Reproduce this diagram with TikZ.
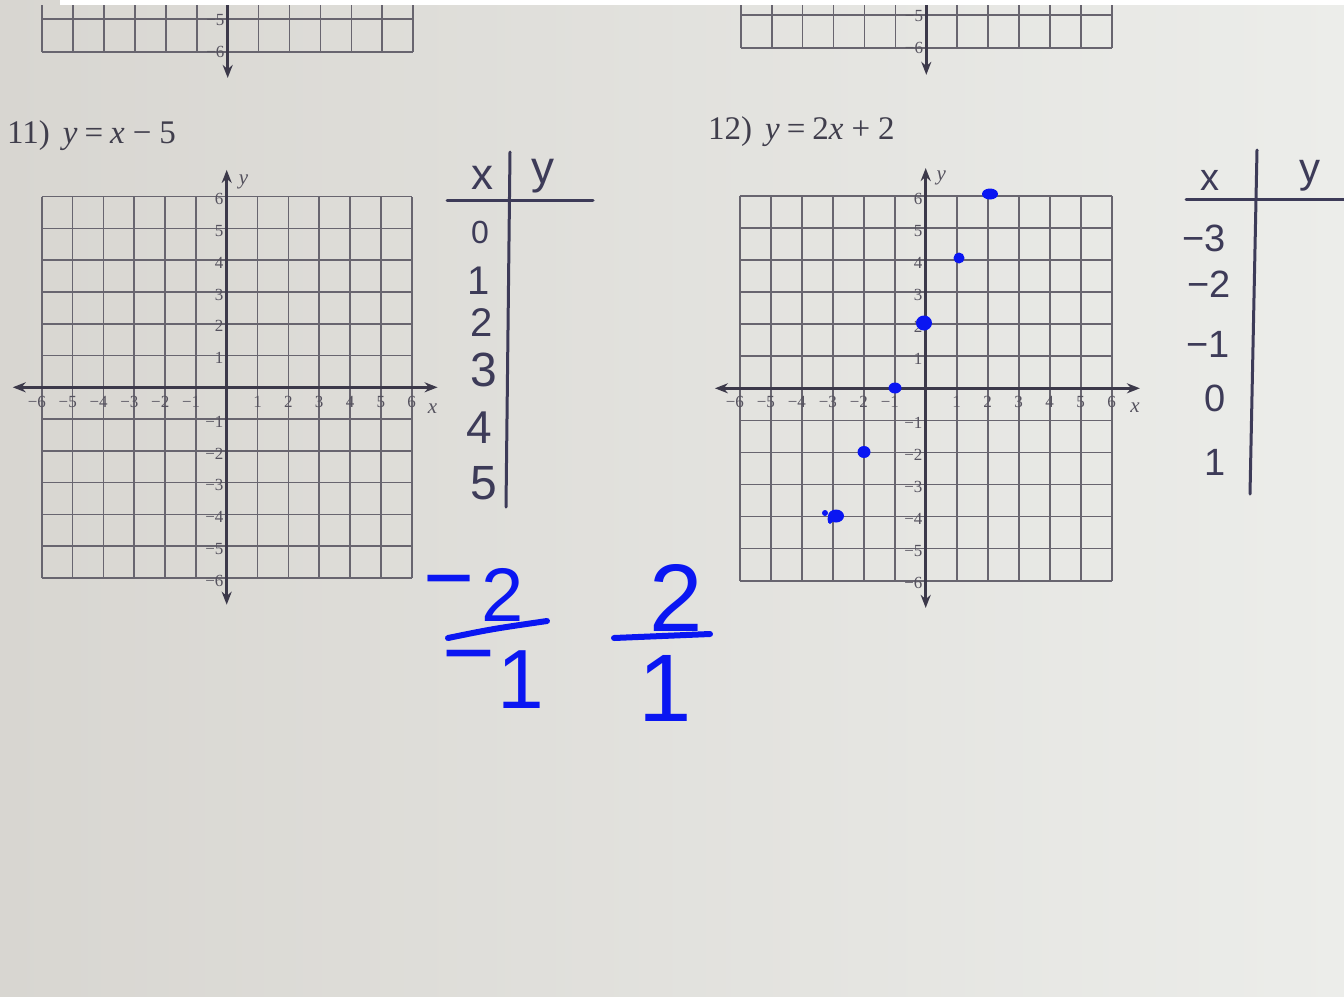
\documentclass[tikz,border=0pt]{standalone}
\usepackage{fontspec}
\setmainfont{Liberation Serif}
\newfontfamily\hand{Liberation Sans}
\usetikzlibrary{arrows.meta}
\definecolor{paperL}{HTML}{D8D6D1}
\definecolor{paperM}{HTML}{E2E1DD}
\definecolor{paperR}{HTML}{ECEDEA}
\definecolor{gridc}{HTML}{68656F}
\definecolor{axisc}{HTML}{3C394A}
\definecolor{labc}{HTML}{55525E}
\definecolor{titc}{HTML}{403E4C}
\definecolor{penc}{HTML}{3D3B58}
\definecolor{inkblue}{HTML}{0A16F2}
\tikzset{
  gridline/.style={draw=gridc, line width=1.7pt},
  axisline/.style={draw=axisc, line width=2.6pt},
  tip/.style={-{Stealth[length=13pt,width=10pt]}},
  tiptwo/.style={{Stealth[length=13pt,width=10pt]}-{Stealth[length=13pt,width=10pt]}},
  ticklab/.style={font=\fontsize{17}{17}\selectfont, text=labc, inner sep=0pt},
  axlab/.style={font=\fontsize{21}{21}\selectfont\itshape, text=labc, inner sep=0pt},
  titlelab/.style={font=\fontsize{33}{36}\selectfont, text=titc, inner sep=0pt, anchor=base west},
  handA/.style={font=\hand\fontsize{40}{40}\selectfont, text=penc, inner sep=0pt},
  handB/.style={font=\hand\fontsize{38}{38}\selectfont, text=penc, inner sep=0pt},
  penline/.style={draw=penc, line width=3pt, line cap=round},
  blueink/.style={text=inkblue, inner sep=0pt},
  bluebar/.style={draw=inkblue, line width=6pt, line cap=round},
  dot/.style={fill=inkblue},
}
\begin{document}
\begin{tikzpicture}[x=1pt,y=-1pt]
\useasboundingbox (0,0) rectangle (1344,996);
\shade[left color=paperL, middle color=paperM, right color=paperR] (0,0) rectangle (1344,996);
\fill[white] (60,0) rectangle (1344,5);

% ---- top-left partial grid
\begin{scope}[shift={(227.7,51.7)}, x=30.92pt, y=32.4pt]
  \foreach \k in {-6,...,6}{ \draw[gridline] (\k,0) -- (\k,1.44); }
  \draw[gridline] (-6,0) -- (6,0);
  \draw[gridline] (-6,1) -- (6,1);
  \draw[axisline, tip] (0,1.44) -- (0,-0.81);
  \node[ticklab, anchor=east] (a5) at (-0.1,0.98) {−5};
  \node[ticklab, anchor=east] (a6) at (-0.1,-0.02) {−6};
\end{scope}

% ---- top-right partial grid
\begin{scope}[shift={(926.3,47.7)}, x=30.92pt, y=32.7pt]
  \foreach \k in {-6,...,6}{ \draw[gridline] (\k,0) -- (\k,1.3); }
  \draw[gridline] (-6,0) -- (6,0);
  \draw[gridline] (-6,1) -- (6,1);
  \draw[axisline, tip] (0,1.3) -- (0,-0.83);
  \node[ticklab, anchor=east] (b5) at (-0.1,0.98) {−5};
  \node[ticklab, anchor=east] (b6) at (-0.1,-0.02) {−6};
\end{scope}

% ---- problem 11 grid
\begin{scope}[shift={(226.7,387.3)}, x=30.83pt, y=31.78pt]
  \foreach \k in {-6,...,6}{
    \draw[gridline] (\k,-6) -- (\k,6);
    \draw[gridline] (-6,\k) -- (6,\k);
  }
  \draw[axisline, tiptwo] (-6.94,0) -- (6.84,0);
  \draw[axisline, tiptwo] (0,-6.84) -- (0,6.84);
  \foreach \i in {1,...,6}{
    \node[ticklab] (g1xp\i) at (\i,-0.45) {\i};
    \node[ticklab] (g1xn\i) at (-\i,-0.45) {\llap{−}\i};
    \node[ticklab, anchor=east] (g1yp\i) at (-0.1,\i-0.08) {\i};
    \node[ticklab, anchor=east] (g1yn\i) at (-0.1,-\i-0.08) {−\i};
  }
  \node[axlab] (g1y) at (0.55,6.46) {y};
  \node[axlab] (g1x) at (6.68,-0.68) {x};
\end{scope}

% ---- problem 12 grid
\begin{scope}[shift={(925.7,388.3)}, x=31.0pt, y=32.06pt]
  \foreach \k in {-6,...,6}{
    \draw[gridline] (\k,-6) -- (\k,6);
    \draw[gridline] (-6,\k) -- (6,\k);
  }
  \draw[axisline, tiptwo] (-6.8,0) -- (6.91,0);
  \draw[axisline, tiptwo] (0,-6.85) -- (0,6.87);
  \foreach \i in {1,...,6}{
    \node[ticklab] (g2xp\i) at (\i,-0.42) {\i};
    \node[ticklab] (g2xn\i) at (-\i,-0.42) {\llap{−}\i};
    \node[ticklab, anchor=east] (g2yp\i) at (-0.1,\i-0.08) {\i};
    \node[ticklab, anchor=east] (g2yn\i) at (-0.1,-\i-0.08) {−\i};
  }
  \node[axlab] (g2y) at (0.5,6.56) {y};
  \node[axlab] (g2x) at (6.75,-0.61) {x};
\end{scope}

% ---- titles
\node[titlelab] (t11) at (7,143) {11)\hspace{13pt}\textit{y}\hspace{7pt}=\hspace{7pt}\textit{x}\hspace{8pt}−\hspace{8pt}5};
\node[titlelab] (t12) at (708,139) {12)\hspace{13pt}\textit{y}\hspace{7pt}=\hspace{7pt}2\textit{x}\hspace{8pt}+\hspace{8pt}2};

% ---- blue plotted points
\fill[dot] (990,194) ellipse [x radius=8pt, y radius=5.5pt];
\fill[dot] (959,258) circle [radius=5.5pt];
\fill[dot] (924,323) ellipse [x radius=8pt, y radius=7.5pt];
\fill[dot] (895,388) ellipse [x radius=6.5pt, y radius=5.5pt];
\fill[dot] (864,452) ellipse [x radius=6.5pt, y radius=6pt];
\fill[dot] (836,516) ellipse [x radius=8pt, y radius=6.5pt];
\fill[dot] (825,513) circle [radius=3pt];
\fill[dot] (830,519) ellipse [x radius=2.5pt, y radius=5pt];

% ---- table 1 (handwritten)
\draw[penline] (510,152) -- (506,507);
\draw[penline] (447,200) -- (593,200);
\node[handA, font=\hand\fontsize{44}{44}\selectfont] (h1x) at (482,178) {x};
\node[handA, font=\hand\fontsize{46}{46}\selectfont] (h1y) at (543,176) {y};
\node[handA, font=\hand\fontsize{32}{32}\selectfont] (h10) at (480,232) {0};
\node[handA] (h11) at (479,281) {1};
\node[handA] (h12) at (482,323) {2};
\node[handA, font=\hand\fontsize{48}{48}\selectfont] (h13) at (484,370) {3};
\node[handA, font=\hand\fontsize{46}{46}\selectfont] (h14) at (479,428) {4};
\node[handA, font=\hand\fontsize{48}{48}\selectfont] (h15) at (484,483) {5};

% ---- table 2 (handwritten)
\draw[penline] (1257,150) -- (1250,494);
\draw[penline] (1186,199) -- (1344,199);
\node[handB] (h2x) at (1210,180) {x};
\node[handB, font=\hand\fontsize{42}{42}\selectfont] (h2y) at (1310,176) {y};
\node[handB] (h2a) at (1204,238) {−3};
\node[handB] (h2b) at (1209,284) {−2};
\node[handB] (h2c) at (1208,344) {−1};
\node[handB] (h2d) at (1215,398) {0};
\node[handB] (h2e) at (1215,462) {1};

% ---- blue fractions
\node[blueink, font=\hand\fontsize{60}{60}\selectfont\bfseries] (fm1) at (449,587) {\scalebox{1.4}[1]{−}};
\node[blueink, font=\hand\fontsize{76}{76}\selectfont] (f2a) at (503,595) {2};
\draw[bluebar] (448,638) .. controls (492,629) .. (547,621);
\node[blueink, font=\hand\fontsize{60}{60}\selectfont\bfseries] (fm2) at (469,662) {\scalebox{1.45}[1]{−}};
\node[blueink, font=\hand\fontsize{84}{84}\selectfont] (f1a) at (521,680) {1};
\node[blueink, font=\hand\fontsize{96}{96}\selectfont] (f2b) at (676,598) {2};
\draw[bluebar] (614,638) -- (710,634);
\node[blueink, font=\hand\fontsize{96}{96}\selectfont] (f1b) at (665,688) {1};
\end{tikzpicture}
\end{document}
